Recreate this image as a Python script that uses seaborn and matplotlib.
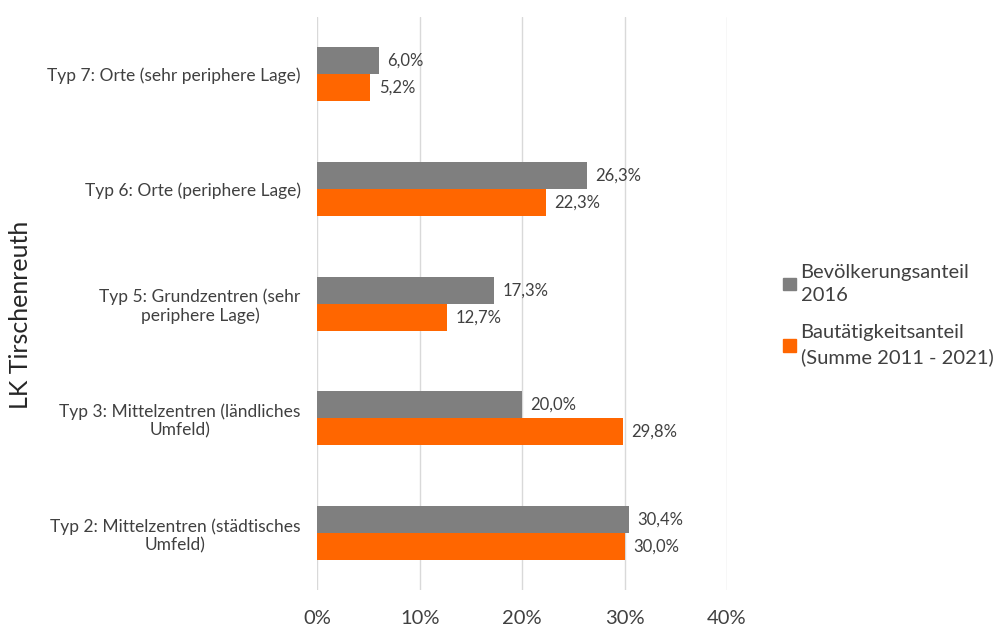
import pandas as pd
import seaborn as sns
import matplotlib.pyplot as plt
from matplotlib.ticker import PercentFormatter

# categories top to bottom
kategorien = ['Typ 7: Orte (sehr periphere Lage)',
              'Typ 6: Orte (periphere Lage)',
              'Typ 5: Grundzentren (sehr\nperiphere Lage)',
              'Typ 3: Mittelzentren (ländliches\nUmfeld)',
              'Typ 2: Mittelzentren (städtisches\nUmfeld)']
bevoelkerung = [6.0, 26.3, 17.3, 20.0, 30.4]
bautaetigkeit = [5.2, 22.3, 12.7, 29.8, 30.0]
serien = ['Bevölkerungsanteil\n2016', 'Bautätigkeitsanteil\n(Summe 2011 - 2021)']
farben = ['#7f7f7f', '#ff6600']

df = pd.DataFrame({
    'Typ': kategorien * 2,
    'Serie': [serien[0]] * 5 + [serien[1]] * 5,
    'Anteil': bevoelkerung + bautaetigkeit,
})

sns.set_style('white')
plt.rcParams['font.family'] = ['Lato', 'DejaVu Sans']

fig = plt.figure(figsize=(10.07, 6.3), dpi=100)
ax = fig.add_axes([0.315, 0.063, 0.407, 0.91])

sns.barplot(data=df, y='Typ', x='Anteil', hue='Serie', hue_order=serien,
            palette=farben, width=0.47, orient='h', saturation=1,
            linewidth=0, ax=ax, legend=False)

for cont, werte in zip(ax.containers, [bevoelkerung, bautaetigkeit]):
    ax.bar_label(cont, labels=[f'{v:.1f}%'.replace('.', ',') for v in werte],
                 padding=6, fontsize=12, color='#404040')

ax.set_xlim(0, 40)
ax.set_xticks([0, 10, 20, 30, 40])
ax.xaxis.set_major_formatter(PercentFormatter(decimals=0))
ax.grid(axis='x', color='#d9d9d9', linewidth=1)
ax.set_axisbelow(True)
for s in ax.spines.values():
    s.set_visible(False)
ax.tick_params(axis='x', length=0, pad=14, labelsize=14.5, colors='#404040')
ax.tick_params(axis='y', length=0, pad=12, labelsize=12.5, colors='#404040')
for lab in ax.get_yticklabels():
    lab.set_multialignment('center')
ax.set_xlabel('')
ax.set_ylabel('')
fig.text(0.02, 0.5, 'LK Tirschenreuth', rotation=90, fontsize=18,
         color='#262626', ha='center', va='center')

handles = [plt.Rectangle((0, 0), 1, 1, color=c) for c in farben]
leg = fig.legend(handles, serien, loc='center left', bbox_to_anchor=(0.76, 0.5),
                 frameon=False, fontsize=14.5, handlelength=0.6, handleheight=0.6,
                 handletextpad=0.25, labelspacing=1.0, labelcolor='#404040')
for t in leg.get_texts():
    t.set_linespacing(1.45)

fig.savefig('out.png', dpi=100)
